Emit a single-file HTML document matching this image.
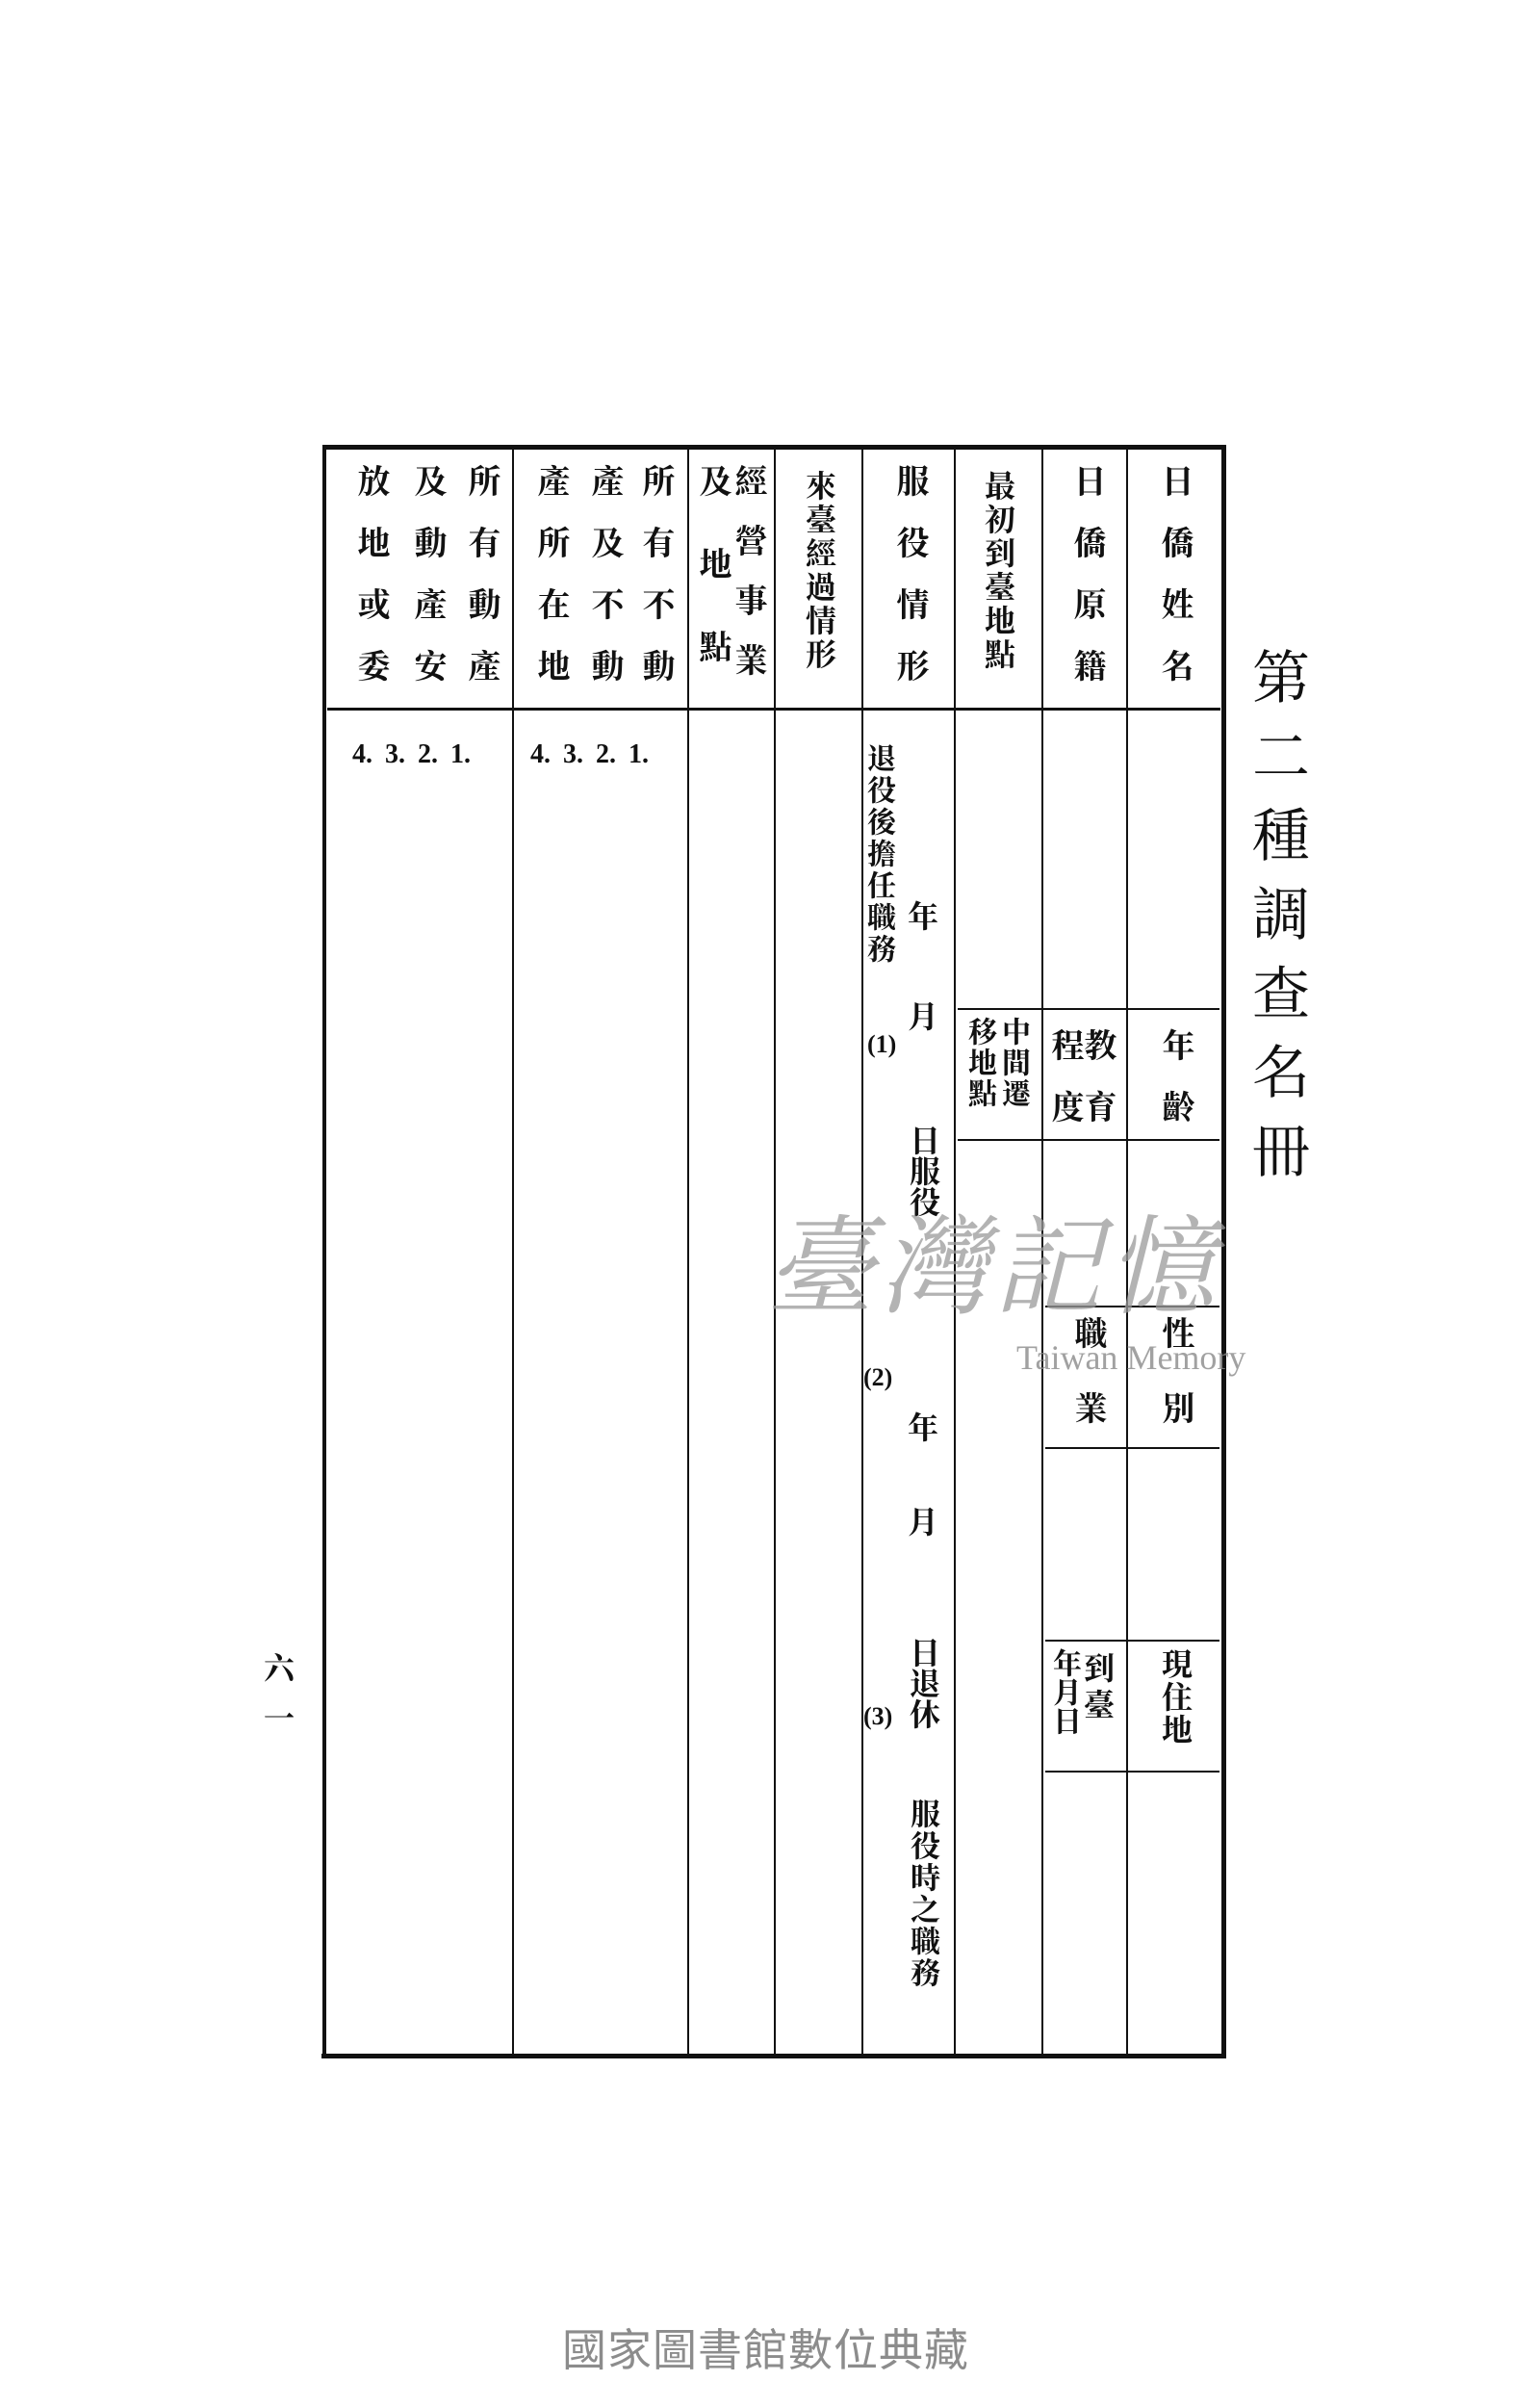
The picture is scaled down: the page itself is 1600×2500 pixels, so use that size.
<!DOCTYPE html>
<html><head><meta charset="utf-8">
<style>
html,body{margin:0;padding:0;background:#fff;}
body{width:1600px;height:2500px;position:relative;overflow:hidden;font-family:"Liberation Serif","Noto Serif CJK SC","Noto Sans CJK TC",serif;color:#111;font-weight:bold;}
.l{position:absolute;background:#111;}
.v{position:absolute;writing-mode:vertical-rl;white-space:nowrap;line-height:1;}
.h{font-size:34px;letter-spacing:30px;}
.t{position:absolute;white-space:nowrap;line-height:1;}
</style></head><body>
<!-- frame -->
<div class="l" style="left:336px;top:462px;width:938px;height:5px"></div>
<div class="l" style="left:334px;top:2133px;width:940px;height:5px"></div>
<div class="l" style="left:335px;top:462px;width:4px;height:1676px"></div>
<div class="l" style="left:1269px;top:462px;width:5px;height:1676px"></div>
<!-- column lines -->
<div class="l" style="left:532px;top:464px;width:2px;height:1672px"></div>
<div class="l" style="left:714px;top:464px;width:2px;height:1672px"></div>
<div class="l" style="left:804px;top:464px;width:2px;height:1672px"></div>
<div class="l" style="left:895px;top:464px;width:2px;height:1672px"></div>
<div class="l" style="left:991px;top:464px;width:2px;height:1672px"></div>
<div class="l" style="left:1082px;top:464px;width:2px;height:1672px"></div>
<div class="l" style="left:1170px;top:464px;width:2px;height:1672px"></div>
<!-- header bottom -->
<div class="l" style="left:340px;top:735px;width:928px;height:3px"></div>
<!-- right sub cells -->
<div class="l" style="left:995px;top:1047px;width:272px;height:2px"></div>
<div class="l" style="left:995px;top:1183px;width:272px;height:2px"></div>
<div class="l" style="left:1086px;top:1356px;width:181px;height:2px"></div>
<div class="l" style="left:1086px;top:1503px;width:181px;height:2px"></div>
<div class="l" style="left:1086px;top:1703px;width:181px;height:2px"></div>
<div class="l" style="left:1086px;top:1839px;width:181px;height:2px"></div>

<!-- header texts -->
<div class="v h" style="left:1202px;top:482px">日僑姓名</div>
<div class="v h" style="left:1111px;top:482px">日僑原籍</div>
<div class="v" style="left:1021px;top:488px;font-size:32px;letter-spacing:3px">最初到臺地點</div>
<div class="v" style="left:835px;top:488px;font-size:32px;letter-spacing:3px">來臺經過情形</div>
<div class="v h" style="left:927px;top:482px">服役情形</div>
<div class="v" style="left:759px;top:482px;font-size:34px;letter-spacing:28px">經營事業</div>
<div class="v" style="left:722px;top:482px;font-size:34px;letter-spacing:52px">及地點</div>
<div class="v h" style="left:663px;top:482px">所有不動</div>
<div class="v h" style="left:610px;top:482px">產及不動</div>
<div class="v h" style="left:554px;top:482px">產所在地</div>
<div class="v h" style="left:482px;top:482px">所有動產</div>
<div class="v h" style="left:426px;top:482px">及動產安</div>
<div class="v h" style="left:367px;top:482px">放地或委</div>

<!-- numbering -->
<div class="t" style="left:366px;top:770px;font-size:28px;word-spacing:6px">4. 3. 2. 1.</div>
<div class="t" style="left:551px;top:770px;font-size:28px;word-spacing:6px">4. 3. 2. 1.</div>

<!-- 服役 column content -->
<div class="v" style="left:897px;top:772px;font-size:30px;letter-spacing:3px">退役後擔任職務</div>
<div class="t" style="left:943px;top:936px;font-size:32px">年</div>
<div class="t" style="left:943px;top:1040px;font-size:32px">月</div>
<div class="t" style="left:901px;top:1072px;font-size:26px">(1)</div>
<div class="v" style="left:943px;top:1168px;font-size:32px">日服役</div>
<div class="t" style="left:897px;top:1418px;font-size:26px">(2)</div>
<div class="t" style="left:943px;top:1467px;font-size:32px">年</div>
<div class="t" style="left:943px;top:1565px;font-size:32px">月</div>
<div class="v" style="left:943px;top:1700px;font-size:32px">日退休</div>
<div class="t" style="left:897px;top:1770px;font-size:26px">(3)</div>
<div class="v" style="left:943px;top:1868px;font-size:31px;letter-spacing:2px">服役時之職務</div>

<!-- right cells -->
<div class="v" style="left:1203px;top:1068px;font-size:34px;letter-spacing:30px">年齡</div>
<div class="v" style="left:1203px;top:1367px;font-size:34px;letter-spacing:44px">性別</div>
<div class="v" style="left:1205px;top:1712px;font-size:32px;letter-spacing:2px">現住地</div>
<div class="v" style="left:1122px;top:1068px;font-size:34px;letter-spacing:30px">教育</div>
<div class="v" style="left:1088px;top:1068px;font-size:34px;letter-spacing:30px">程度</div>
<div class="v" style="left:1112px;top:1367px;font-size:34px;letter-spacing:44px">職業</div>
<div class="v" style="left:1124px;top:1716px;font-size:32px;letter-spacing:6px">到臺</div>
<div class="v" style="left:1090px;top:1712px;font-size:30px;letter-spacing:0px">年月日</div>
<div class="v" style="left:1037px;top:1056px;font-size:30px;letter-spacing:2px">中間遷</div>
<div class="v" style="left:1002px;top:1056px;font-size:30px;letter-spacing:2px">移地點</div>

<!-- title -->
<div class="v" style="left:1296px;top:672px;font-size:60px;letter-spacing:22px;font-weight:normal">第二種調查名冊</div>
<!-- page number -->
<div class="v" style="left:272px;top:1716px;font-size:32px;letter-spacing:20px">六一</div>

<!-- watermark -->
<div class="t" style="left:796px;top:1262px;font-size:112px;color:#9a9a9a;opacity:0.75;letter-spacing:6px;font-style:italic;font-weight:normal">臺灣記憶</div>
<div class="t" style="left:1056px;top:1392px;font-size:36px;color:#8a8a8a;opacity:0.8;font-family:'Liberation Serif',serif;font-weight:normal">Taiwan Memory</div>

<!-- footer -->
<div class="t" style="left:584px;top:2418px;font-size:46px;color:#8c8c8c;letter-spacing:1px;font-family:'Liberation Sans','Noto Sans CJK TC',sans-serif;font-weight:normal">國家圖書館數位典藏</div>
</body></html>
